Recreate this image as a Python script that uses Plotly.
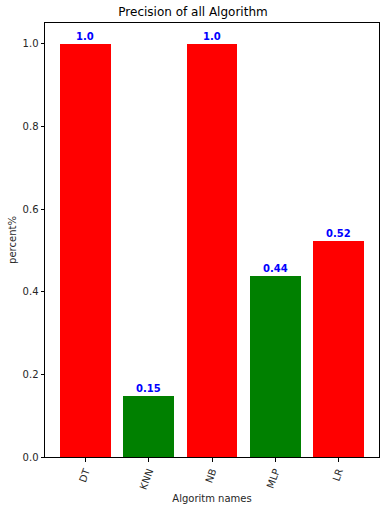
import plotly.graph_objects as go

algorithms = ["DT", "KNN", "NB", "MLP", "LR"]
precision = [1.0, 0.148, 1.0, 0.438, 0.523]
bar_colors = ["red", "green", "red", "green", "red"]

fig = go.Figure()
fig.add_trace(go.Bar(
    x=list(range(len(algorithms))),
    y=precision,
    width=0.8,
    marker=dict(color=bar_colors, line=dict(width=0)),
    hoverinfo="skip",
))

for i, v in enumerate(precision):
    fig.add_annotation(
        x=i, y=v, text="<b>%s</b>" % round(v, 2),
        showarrow=False, yanchor="bottom", yshift=0,
        font=dict(color="blue", size=10, family="DejaVu Sans"),
    )

fig.update_layout(
    width=386, height=509,
    margin=dict(l=45, r=7, t=23, b=52),
    plot_bgcolor="white", paper_bgcolor="white",
    font=dict(family="DejaVu Sans", size=10, color="#262626"),
    title=dict(text="Precision of all Algorithm", x=0.5, xanchor="center",
               y=1 - 12 / 509, yanchor="middle", font=dict(size=12, color="black")),
    showlegend=False,
    bargap=0,
)
fig.update_xaxes(
    range=[-0.64, 4.64],
    tickmode="array", tickvals=list(range(len(algorithms))), ticktext=algorithms,
    tickangle=-70,
    showline=True, linecolor="black", linewidth=1, mirror=True,
    ticks="outside", ticklen=3.5, tickcolor="black",
    showgrid=False, zeroline=False,
    title=dict(text="Algoritm names", standoff=4, font=dict(size=10)),
)
fig.update_yaxes(
    range=[0, 1.05],
    tickmode="array", tickvals=[0, 0.2, 0.4, 0.6, 0.8, 1.0],
    ticktext=["0.0", "0.2", "0.4", "0.6", "0.8", "1.0"],
    showline=True, linecolor="black", linewidth=1, mirror=True,
    ticks="outside", ticklen=3.5, tickcolor="black",
    showgrid=False, zeroline=False,
    title=dict(text="percent%", standoff=4, font=dict(size=10)),
)

fig.write_html("out.html")
